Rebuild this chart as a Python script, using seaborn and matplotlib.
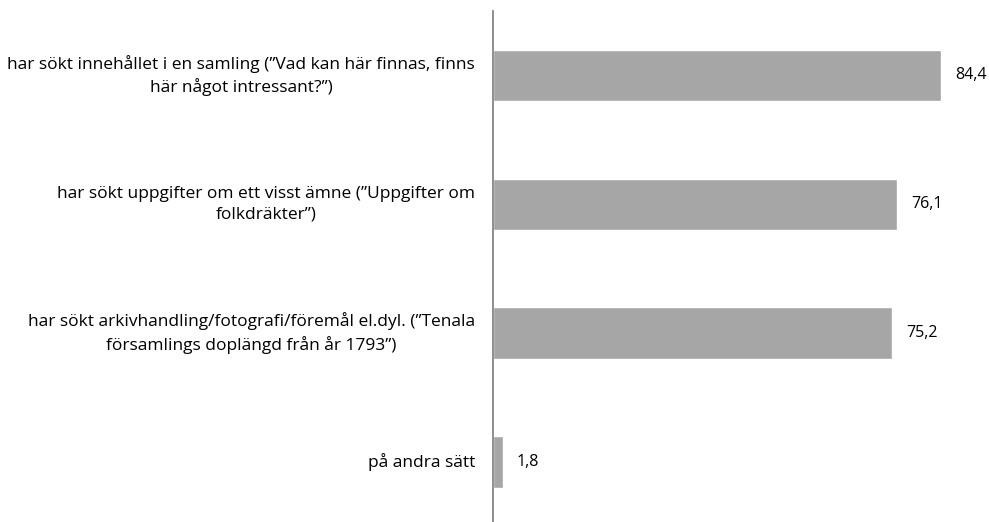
import matplotlib
matplotlib.use("Agg")
import matplotlib.pyplot as plt
import matplotlib.transforms as mtransforms
import seaborn as sns
import pandas as pd

# survey answers (percent)
labels = [
    "har sökt innehållet i en samling (”Vad kan här finnas, finns\nhär något intressant?”)",
    "har sökt uppgifter om ett visst ämne (”Uppgifter om\nfolkdräkter”)",
    "har sökt arkivhandling/fotografi/föremål el.dyl. (”Tenala\nförsamlings doplängd från år 1793”)",
    "på andra sätt",
]
values = [84.4, 76.1, 75.2, 1.8]

df = pd.DataFrame({"label": labels, "value": values})

sns.set_theme(style="white")
plt.rcParams["font.family"] = ["Open Sans", "DejaVu Sans"]

fig = plt.figure(figsize=(9.89, 5.22), dpi=100)
ax = fig.add_axes([493 / 989, -4.5 / 522, 1 - 493 / 989 - 18 / 989, (522 - 11 + 4.5) / 522])

sns.barplot(data=df, x="value", y="label", orient="h", color="#A6A6A6",
            width=0.40, saturation=1, ax=ax)

ax.set_xlim(0, 90)
ax.set_ylim(3.5, -0.5)
ax.set_xlabel("")
ax.set_ylabel("")
ax.set_xticks([])
ax.set_yticklabels([])
ax.tick_params(axis="y", length=0)

for s in ["top", "right", "bottom"]:
    ax.spines[s].set_visible(False)
ax.spines["left"].set_color("#868686")
ax.spines["left"].set_linewidth(1.3)

# category labels, drawn as text so line spacing sticks
trans = mtransforms.offset_copy(ax.get_yaxis_transform(), fig=fig, x=-18, y=0, units="dots")
for i, lab in enumerate(df["label"]):
    ax.text(0, i, lab, transform=trans, ha="right", va="center", ma="center",
            fontsize=12.5, linespacing=1.4, color="black")

ax.bar_label(ax.containers[0], labels=[f"{v:.1f}".replace(".", ",") for v in values],
             padding=10, fontsize=11.5, color="black")

fig.savefig("out.png", dpi=100)
